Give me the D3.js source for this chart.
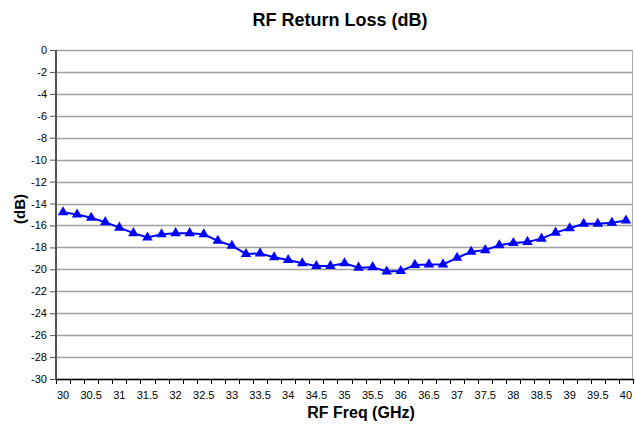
<!DOCTYPE html>
<html>
<head>
<meta charset="utf-8">
<script src="https://cdn.jsdelivr.net/npm/d3@7"></script>
<style>
  body { margin: 0; background: #fff; }
  text { font-family: "Liberation Sans", Arial, sans-serif; }
</style>
</head>
<body>
<script>
// frequencies in GHz, one every 0.25
var freqs = [30, 30.25, 30.5, 30.75, 31, 31.25, 31.5, 31.75, 32, 32.25, 32.5, 32.75,
  33, 33.25, 33.5, 33.75, 34, 34.25, 34.5, 34.75, 35, 35.25, 35.5, 35.75, 36, 36.25,
  36.5, 36.75, 37, 37.25, 37.5, 37.75, 38, 38.25, 38.5, 38.75, 39, 39.25, 39.5, 39.75, 40];
// return loss in dB
var returnLoss = [-14.8, -15.0, -15.3, -15.7, -16.2, -16.7, -17.1, -16.8, -16.7, -16.7, -16.8, -17.4,
  -17.85, -18.6, -18.55, -18.9, -19.15, -19.45, -19.7, -19.7, -19.45, -19.85, -19.8, -20.2, -20.15, -19.6,
  -19.55, -19.55, -18.95, -18.4, -18.25, -17.8, -17.6, -17.5, -17.2, -16.65, -16.25, -15.85, -15.85, -15.75, -15.55];
var yTicks = d3.range(0, -31, -2);
var xLabels = freqs.filter(function(d, i) { return i % 2 === 0; });

var width = 635, height = 426;
var margin = {top: 50, right: 2, bottom: 47, left: 56};
var w = width - margin.left - margin.right,
    h = height - margin.top - margin.bottom;

var svg = d3.select("body").append("svg")
    .attr("width", width)
    .attr("height", height);

var g = svg.append("g")
    .attr("transform", "translate(" + margin.left + "," + margin.top + ")");

var x = d3.scaleBand().domain(freqs).range([0, w]).padding(0);
var y = d3.scaleLinear().domain([-30, 0]).range([h, 0]);

// gridlines
g.append("g").selectAll("line")
    .data(yTicks)
  .enter().append("line")
    .attr("x1", 0).attr("x2", w)
    .attr("y1", function(d) { return Math.round(y(d)) + 0.5; })
    .attr("y2", function(d) { return Math.round(y(d)) + 0.5; })
    .attr("stroke", "#a0a0a0")
    .attr("stroke-width", 1.3);

// right border of plot area
g.append("line")
    .attr("x1", w - 0.5).attr("x2", w - 0.5)
    .attr("y1", 0).attr("y2", h)
    .attr("stroke", "#b0b0b0");

// y axis (plain hyphen for negatives, like the original)
var yAxis = g.append("g")
    .call(d3.axisLeft(y).tickValues(yTicks).tickSize(6).tickPadding(3)
      .tickFormat(function(d) { return String(d); }));
yAxis.select(".domain").attr("stroke", "#555").attr("stroke-width", 2).attr("d", "M0,0V" + h);
yAxis.selectAll(".tick line").attr("stroke", "#555");
yAxis.selectAll("text").attr("font-size", 11).attr("fill", "#000")
    .style("font-family", "'Liberation Sans', Arial, sans-serif");

// x axis: ticks on category boundaries, labels every other category
var xa = g.append("g").attr("transform", "translate(0," + h + ")");
xa.append("line").attr("x1", 0).attr("x2", w).attr("y1", 0.5).attr("y2", 0.5)
    .attr("stroke", "#000").attr("stroke-width", 1.3);
xa.selectAll(".tk")
    .data(freqs.concat(["end"]))
  .enter().append("line")
    .attr("class", "tk")
    .attr("x1", function(d, i) { return Math.round(i * x.bandwidth()) + 0.5; })
    .attr("x2", function(d, i) { return Math.round(i * x.bandwidth()) + 0.5; })
    .attr("y1", 0).attr("y2", 5)
    .attr("stroke", "#000");
xa.selectAll(".lbl")
    .data(xLabels)
  .enter().append("text")
    .attr("class", "lbl")
    .attr("x", function(d) { return x(d) + x.bandwidth() / 2; })
    .attr("y", 20)
    .attr("text-anchor", "middle")
    .attr("font-size", 11)
    .text(function(d) { return d; });

// series
var line = d3.line()
    .x(function(d, i) { return x(freqs[i]) + x.bandwidth() / 2; })
    .y(function(d) { return y(d); });

g.append("path")
    .datum(returnLoss)
    .attr("d", line)
    .attr("fill", "none")
    .attr("stroke", "#0000ff")
    .attr("stroke-width", 2);

var tri = d3.symbol().type(d3.symbolTriangle).size(48);
g.selectAll(".pt")
    .data(returnLoss)
  .enter().append("path")
    .attr("class", "pt")
    .attr("transform", function(d, i) {
      return "translate(" + (x(freqs[i]) + x.bandwidth() / 2) + "," + y(d) + ")";
    })
    .attr("d", tri)
    .attr("fill", "#0000ff");

// titles
svg.append("text")
    .attr("x", 340).attr("y", 26)
    .attr("text-anchor", "middle")
    .attr("font-size", 18).attr("font-weight", "bold")
    .text("RF Return Loss (dB)");

svg.append("text")
    .attr("x", 361).attr("y", 418)
    .attr("text-anchor", "middle")
    .attr("font-size", 16).attr("font-weight", "bold")
    .text("RF Freq (GHz)");

svg.append("text")
    .attr("transform", "translate(25,209) rotate(-90)")
    .attr("text-anchor", "middle")
    .attr("font-size", 15).attr("font-weight", "bold")
    .text("(dB)");
</script>
</body>
</html>
